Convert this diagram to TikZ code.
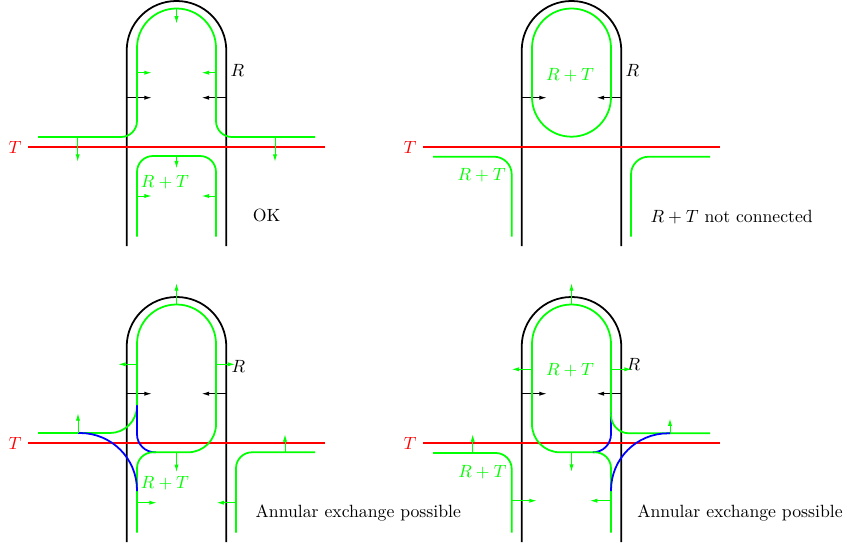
\documentclass[tikz,border=0pt]{standalone}
\usetikzlibrary{arrows.meta}
\tikzset{
  wall/.style={black, line width=1pt},
  tline/.style={red, line width=1pt},
  gline/.style={green, line width=1pt},
  bline/.style={blue, line width=1pt},
  garr/.style={green, line width=0.55pt, -{Latex[length=4.2pt,width=2.4pt]}},
  karr/.style={black, line width=0.55pt, -{Latex[length=4.2pt,width=2.4pt]}},
  glabel/.style={text=green, inner sep=0pt},
  klabel/.style={inner sep=0pt},
}
\newcommand\frameparts[1]{%
  \draw[wall, rounded corners=28.05pt] (126.7,246) -- (126.7,1) -- (226.3,1) -- (226.3,246);
  \draw[tline] (28,147) -- (325,147);
  \node[klabel, text=red] (T#1) at (15,147) {$T$};
  \draw[karr] (126.7,97.7) -- (151.7,97.7);
  \draw[karr] (226.3,97.7) -- (201.7,97.7);
}
\begin{document}
\begin{tikzpicture}[x=0.565pt,y=-0.565pt]
\useasboundingbox (0,0) rectangle (847,546);
% ---------------- panel 1 ----------------
\begin{scope}
  \frameparts{a}
  \node[klabel] (Ra) at (237.5,70) {$R$};
  \draw[gline, rounded corners=9pt] (38,137) -- (137,137) -- (137,80);
  \draw[gline, rounded corners=22.3pt] (137,80) -- (137,8.5) -- (216,8.5) -- (216,80);
  \draw[gline, rounded corners=9pt] (216,80) -- (216,137) -- (315,137);
  \draw[garr] (176.5,8.5) -- (176.5,23.5);
  \draw[garr] (137,72.7) -- (151.7,72.7);
  \draw[garr] (216,72.7) -- (201.7,72.7);
  \draw[garr] (77.7,137) -- (77.7,161.7);
  \draw[garr] (275,137) -- (275,161.7);
  \draw[gline, rounded corners=9pt] (137,236.7) -- (137,156) -- (216,156) -- (216,236.7);
  \draw[garr] (176.5,156) -- (176.5,168.3);
  \draw[garr] (137,196) -- (151.7,196);
  \draw[garr] (216,196) -- (201.7,196);
  \node[glabel] (RTa) at (165,181.7) {$R+T$};
  \node[klabel] (OK) at (266.7,215) {OK};
\end{scope}
% ---------------- panel 2 ----------------
\begin{scope}[shift={(395,0)}]
  \frameparts{b}
  \node[klabel] (Rb) at (237.5,70) {$R$};
  \draw[gline, rounded corners=22.3pt] (137,8.5) rectangle (216,136.7);
  \node[glabel] (RTb) at (175,75) {$R+T$};
  \draw[gline, rounded corners=10pt] (38,156.7) -- (116.7,156.7) -- (116.7,236.7);
  \node[glabel] (RTb2) at (86.7,175) {$R+T$};
  \draw[gline, rounded corners=10pt] (236,236.7) -- (236,156.7) -- (315,156.7);
  \node[klabel] (NC) at (336.7,216.7) {$R+T$ not connected};
\end{scope}
% ---------------- panel 3 ----------------
\begin{scope}[shift={(0,296)}]
  \frameparts{c}
  \node[klabel] (Rc) at (238.5,70) {$R$};
  \draw[gline, rounded corners=15.3pt] (38,137) -- (137,137) -- (137,109);
  \draw[bline, rounded corners=10.2pt] (137,109) -- (137,156.3) -- (156,156.3);
  \draw[gline, rounded corners=15.8pt] (156,156.3) -- (216,156.3) -- (216,80);
  \draw[gline, rounded corners=22.3pt] (216,80) -- (216,8.5) -- (137,8.5) -- (137,109);
  \draw[gline, rounded corners=9pt] (156,156.3) -- (137,156.3) -- (137,236.7);
  \draw[bline, rounded corners=32.2pt] (78,137) -- (137,137) -- (137,195);
  \draw[gline, rounded corners=9pt] (315,156.3) -- (236,156.3) -- (236,236.7);
  \draw[garr] (176.5,8.5) -- (176.5,-12.7);
  \draw[garr] (137,68.3) -- (118.3,68.3);
  \draw[garr] (216,68.3) -- (235,68.3);
  \draw[garr] (78,137) -- (78,117.3);
  \draw[garr] (176.5,156.3) -- (176.5,176);
  \draw[garr] (285,156.3) -- (285,138.3);
  \draw[garr] (137,206.7) -- (156.7,206.7);
  \draw[garr] (236,206.7) -- (216.7,206.7);
  \node[glabel] (RTc) at (165,187.3) {$R+T$};
  \node[klabel] (AEc) at (358.3,217.3) {Annular exchange possible};
\end{scope}
% ---------------- panel 4 ----------------
\begin{scope}[shift={(395,296)}]
  \frameparts{d}
  \node[klabel] (Rd) at (238.5,68.3) {$R$};
  \draw[gline, rounded corners=15.8pt] (198.3,156.3) -- (137,156.3) -- (137,80);
  \draw[gline, rounded corners=22.3pt] (137,80) -- (137,8.5) -- (216,8.5) -- (216,117.3);
  \draw[bline, rounded corners=10.2pt] (198.3,156.3) -- (216,156.3) -- (216,117.3);
  \draw[gline, rounded corners=10.2pt] (216,117.3) -- (216,137.3) -- (315,137.3);
  \draw[gline, rounded corners=9pt] (198.3,156.3) -- (216,156.3) -- (216,236.7);
  \draw[bline, rounded corners=32.2pt] (275,137.3) -- (216,137.3) -- (216,195);
  \draw[gline, rounded corners=9pt] (38,157) -- (116.7,157) -- (116.7,236.7);
  \draw[garr] (176.5,8.5) -- (176.5,-12.7);
  \draw[garr] (137,73.3) -- (116.7,73.3);
  \draw[garr] (216,73.3) -- (236.7,73.3);
  \draw[garr] (275,137.3) -- (275,122.5);
  \draw[garr] (176.5,156.3) -- (176.5,175.7);
  \draw[garr] (77.7,157) -- (77.7,138.3);
  \draw[garr] (116.7,204.7) -- (141.7,204.7);
  \draw[garr] (216,204.7) -- (195,204.7);
  \node[glabel] (RTd) at (175,74) {$R+T$};
  \node[glabel] (RTd2) at (87.3,175.7) {$R+T$};
  \node[klabel] (AEd) at (345,217.3) {Annular exchange possible};
\end{scope}
\end{tikzpicture}
\end{document}
